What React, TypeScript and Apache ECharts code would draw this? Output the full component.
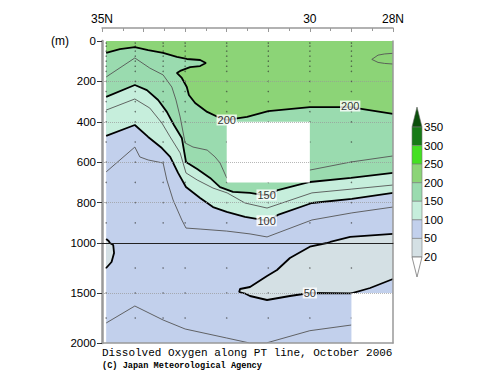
import React, { useEffect, useRef } from 'react';
import * as echarts from 'echarts';

// ---- data (latitude °N, depth m) ----
const stations = [34.9, 34.2, 33.53, 33.0, 32.0, 31.0, 30.0, 29.0];
const upperSampleDepths = [10, 25, 50, 75, 100, 125, 150, 200, 250, 300, 350, 400, 500, 600, 700, 800, 900];
const lowerSampleDepths = [1250, 1500, 1750];

const westEdge = 34.9;
const eastEdge = 28.0;

const c225 = [[28.0, 61], [28.2, 64], [28.36, 70], [28.51, 91], [28.36, 106], [28.2, 111], [28.0, 114]];
const c200 = [[34.9, 59], [34.57, 40], [34.21, 30], [33.89, 45], [33.53, 59], [33.2, 79], [32.96, 89], [32.64, 94], [32.5, 109], [32.64, 124], [32.88, 129], [33.12, 148], [33.2, 158], [33.08, 183], [32.96, 228], [32.91, 267], [32.76, 307], [32.47, 351], [32.21, 376], [32.0, 391], [31.51, 376], [31.0, 347], [30.0, 327], [29.03, 327], [28.0, 361]];
const c175 = [[34.9, 178], [34.21, 84], [33.85, 134], [33.53, 168], [33.32, 228], [33.22, 292], [33.12, 376], [33.0, 505], [32.81, 525], [32.47, 540], [32.28, 574], [32.16, 604], [32.0, 678], [30.0, 639], [29.01, 599], [28.0, 569]];
const c150 = [[34.9, 277], [34.21, 218], [33.92, 243], [33.65, 292], [33.44, 351], [33.27, 416], [33.08, 480], [32.98, 599], [32.71, 634], [32.4, 678], [32.16, 723], [31.85, 747], [31.44, 752], [31.0, 767], [30.77, 738], [30.0, 698], [29.01, 678], [28.0, 653]];
const c125 = [[34.9, 342], [34.21, 287], [33.85, 332], [33.56, 406], [33.36, 475], [33.12, 554], [32.98, 653], [32.71, 688], [32.33, 728], [31.99, 752], [31.56, 802], [31.03, 827], [29.95, 752], [28.99, 733], [28.0, 713]];
const c100 = [[34.9, 470], [34.21, 416], [33.89, 475], [33.56, 530], [33.36, 574], [33.17, 653], [32.98, 723], [32.64, 777], [32.33, 822], [32.0, 846], [31.56, 871], [31.0, 891], [30.77, 861], [29.95, 802], [28.99, 782], [28.0, 752]];
const c75 = [[34.9, 648], [34.21, 525], [34.09, 574], [33.89, 589], [33.53, 604], [33.44, 688], [33.29, 787], [33.08, 886], [32.98, 926], [32.64, 931], [32.0, 941], [31.44, 955], [31.03, 970], [29.95, 886], [28.99, 851], [28.0, 822]];
const c75deep = [[34.9, 1800], [34.21, 1630], [33.53, 1770], [33.0, 1860], [32.0, 1950], [31.45, 2000], [31.05, 2000], [30.0, 1877], [29.0, 1820]];
const c50WestUpper = [[34.9, 980], [34.84, 990], [34.81, 1000]];
const c50WestLower = [[34.81, 1000], [34.73, 1020], [34.71, 1100], [34.77, 1190], [34.9, 1250]];
const c50EastUpper = [[28.0, 955], [29.03, 970], [29.51, 995], [29.59, 1000]];
const c50EastLower = [[29.59, 1000], [30.0, 1037], [30.48, 1150], [30.79, 1270], [31.03, 1330], [31.44, 1440], [31.68, 1460], [31.7, 1490], [31.56, 1505], [31.44, 1530], [31.03, 1570], [30.48, 1530], [30.0, 1500], [29.0, 1503], [28.55, 1450], [28.0, 1360]];

const gapUpper = [[32, 400], [30, 400], [30, 700], [32, 700]];
const gapLower = [[29, 1500], [28, 1500], [28, 2000], [29, 2000]];

const labelsUpper = [[32.0, 391, '200'], [29.03, 322, '200'], [31.04, 762, '150'], [31.04, 890, '100']];
const labelsLower = [[30.0, 1500, '50']];

const cbLevels = ['350', '300', '250', '200', '150', '100', '50', '20'];
const cbColors = ['#177a17', '#44e022', '#8cd477', '#9adbaf', '#c6eedc', '#c2d0ec', '#d4e0e4'];
const colorAbove350 = '#0b4f0b';

const C200 = '#8cd477';
const C150 = '#9adbaf';
const C100 = '#c6eedc';
const C50 = '#c2d0ec';
const C20 = '#d4e0e4';

const FONT = 'Liberation Sans, Arial, sans-serif';
const MONO = 'Liberation Mono, Courier New, monospace';

function poly(points: number[][], color: string, xi: number, yi: number, z: number) {
  return {
    type: 'custom',
    xAxisIndex: xi,
    yAxisIndex: yi,
    z,
    silent: true,
    clip: true,
    data: points,
    encode: { x: 0, y: 1 },
    renderItem: (params: any, api: any) => {
      if (params.dataIndex !== 0) return null;
      return {
        type: 'polygon',
        shape: { points: points.map((p) => api.coord(p)) },
        style: { fill: color, stroke: null },
      };
    },
  };
}

function line(points: number[][], thick: boolean, xi: number, yi: number) {
  return {
    type: 'line',
    xAxisIndex: xi,
    yAxisIndex: yi,
    z: 3,
    silent: true,
    showSymbol: false,
    symbol: 'none',
    data: points,
    lineStyle: thick ? { color: '#000', width: 1.8 } : { color: '#555', width: 0.9 },
  };
}

function labels(items: any[], xi: number, yi: number) {
  return {
    type: 'scatter',
    xAxisIndex: xi,
    yAxisIndex: yi,
    z: 8,
    silent: true,
    symbolSize: 0,
    data: items,
    label: {
      show: true,
      position: 'inside',
      formatter: (p: any) => p.value[2],
      color: '#000',
      fontSize: 11,
      fontFamily: FONT,
      backgroundColor: '#fff',
      padding: [0, 1],
    },
  };
}

export default function App() {
  const ref = useRef<HTMLDivElement>(null);
  useEffect(() => {
    const chart = echarts.init(ref.current!, null, { renderer: 'svg' });
    const xBase = { type: 'value', min: 28, max: 35, inverse: true, interval: 1 };
    const grayLine = { color: '#999', width: 1.5 };
    const dotsUpper = stations.flatMap((s) => upperSampleDepths.map((d) => [s, d]));
    const dotsLower = stations.flatMap((s) => lowerSampleDepths.map((d) => [s, d]));
    const dotStyle = { color: '#333', opacity: 0.65 };
    const bgUpper = [[westEdge, 0], [eastEdge, 0], [eastEdge, 1000], [westEdge, 1000]];
    const bgLower = [[westEdge, 1000], [eastEdge, 1000], [eastEdge, 2000], [westEdge, 2000]];
    const h = (257 - 127) / 7;
    const graphic: any[] = [
      { type: 'text', x: 51, y: 41, style: { text: '(m)', fontSize: 12, fontFamily: FONT, fill: '#000', verticalAlign: 'middle' } },
      { type: 'polygon', shape: { points: [[412, 127], [422, 127], [417, 107]] }, style: { fill: colorAbove350, stroke: '#666', lineWidth: 0.6 } },
      ...cbColors.map((c, i) => ({ type: 'rect', shape: { x: 412, y: 127 + i * h, width: 10, height: h }, style: { fill: c, stroke: '#777', lineWidth: 0.6 } })),
      { type: 'polygon', shape: { points: [[412, 257], [422, 257], [417, 277]] }, style: { fill: '#fff', stroke: '#777', lineWidth: 0.8 } },
      ...cbLevels.map((t, i) => ({ type: 'text', x: 424, y: 127 + i * h, style: { text: t, fontSize: 11.5, fontFamily: FONT, fill: '#000', verticalAlign: 'middle' } })),
    ];
    chart.setOption({
      animation: false,
      title: {
        text: 'Dissolved Oxygen along PT line, October 2006',
        subtext: '(C) Japan Meteorological Agency',
        left: 102,
        top: 347,
        padding: 0,
        itemGap: 3,
        textStyle: { fontFamily: MONO, fontSize: 11, fontWeight: 'normal', color: '#000' },
        subtextStyle: { fontFamily: MONO, fontSize: 8.6, fontWeight: 'bold', color: '#000' },
      },
      grid: [
        { left: 102, top: 41, width: 291, height: 202 },
        { left: 102, top: 243, width: 291, height: 100 },
      ],
      xAxis: [
        {
          ...xBase, gridIndex: 0, position: 'top', offset: 13, z: 5,
          axisLine: { onZero: false, lineStyle: grayLine },
          axisTick: { inside: true, length: 4, lineStyle: { color: '#999' } },
          minorTick: { show: true, splitNumber: 2, length: 3, lineStyle: { color: '#999' } },
          axisLabel: {
            margin: 3, fontSize: 12, fontFamily: FONT, color: '#000',
            formatter: (v: number) => (v === 35 ? '35N' : v === 30 ? '30' : v === 28 ? '28N' : ''),
          },
          splitLine: { show: false },
        },
        {
          ...xBase, gridIndex: 0, position: 'bottom', z: 5,
          axisLine: { onZero: false, lineStyle: { color: '#222', width: 1 } },
          axisTick: { show: false }, axisLabel: { show: false }, splitLine: { show: false },
        },
        {
          ...xBase, gridIndex: 1, position: 'bottom', z: 5,
          axisLine: { onZero: false, lineStyle: grayLine },
          axisTick: { show: false }, axisLabel: { show: false }, splitLine: { show: false },
        },
      ],
      yAxis: [
        {
          type: 'value', gridIndex: 0, min: 0, max: 1000, interval: 200, inverse: true, position: 'left', z: 5,
          axisLine: { onZero: false, lineStyle: { color: '#999', width: 2.5 } },
          axisTick: { length: 5, lineStyle: { color: '#333' } },
          axisLabel: { margin: 6, fontSize: 11.5, fontFamily: FONT, color: '#000', formatter: (v: number) => (v === 1000 ? '' : String(v)) },
          splitLine: { show: true, showMinLine: false, showMaxLine: false, lineStyle: { type: 'dotted', color: '#999', width: 1, opacity: 0.7 } },
        },
        {
          type: 'value', gridIndex: 0, min: 0, max: 1000, inverse: true, position: 'right', z: 5,
          axisLine: { onZero: false, lineStyle: grayLine },
          axisTick: { show: false }, axisLabel: { show: false }, splitLine: { show: false },
        },
        {
          type: 'value', gridIndex: 1, min: 1000, max: 2000, interval: 500, inverse: true, position: 'left', z: 5,
          axisLine: { onZero: false, lineStyle: { color: '#999', width: 2.5 } },
          axisTick: { length: 5, lineStyle: { color: '#333' } },
          axisLabel: { margin: 6, fontSize: 11.5, fontFamily: FONT, color: '#000', formatter: (v: number) => String(v) },
          splitLine: { show: true, showMinLine: false, showMaxLine: false, lineStyle: { type: 'dotted', color: '#999', width: 1, opacity: 0.7 } },
        },
        {
          type: 'value', gridIndex: 1, min: 1000, max: 2000, inverse: true, position: 'right', z: 5,
          axisLine: { onZero: false, lineStyle: grayLine },
          axisTick: { show: false }, axisLabel: { show: false }, splitLine: { show: false },
        },
      ],
      graphic,
      series: [
        poly(bgUpper, C50, 0, 0, 1),
        poly(bgLower, C50, 2, 2, 1),
        poly([[westEdge, 0], ...c100, [eastEdge, 0]], C100, 0, 0, 1),
        poly([[westEdge, 0], ...c150, [eastEdge, 0]], C150, 0, 0, 1),
        poly([[westEdge, 0], ...c200, [eastEdge, 0]], C200, 0, 0, 1),
        poly([...c50WestUpper, [westEdge, 1000]], C20, 0, 0, 1),
        poly([...c50WestLower, [westEdge, 1000]], C20, 2, 2, 1),
        poly([...c50EastUpper, [eastEdge, 1000]], C20, 0, 0, 1),
        poly([...c50EastLower, [eastEdge, 1000]], C20, 2, 2, 1),
        { type: 'scatter', xAxisIndex: 0, yAxisIndex: 0, z: 2, silent: true, symbolSize: 1.5, data: dotsUpper, itemStyle: dotStyle },
        { type: 'scatter', xAxisIndex: 2, yAxisIndex: 2, z: 2, silent: true, symbolSize: 1.5, data: dotsLower, itemStyle: dotStyle },
        line(c225, false, 0, 0),
        line(c175, false, 0, 0),
        line(c125, false, 0, 0),
        line(c75, false, 0, 0),
        line(c75deep, false, 2, 2),
        line(c200, true, 0, 0),
        line(c150, true, 0, 0),
        line(c100, true, 0, 0),
        line(c50WestUpper, true, 0, 0),
        line(c50WestLower, true, 2, 2),
        line(c50EastUpper, true, 0, 0),
        line(c50EastLower, true, 2, 2),
        poly(gapUpper, '#ffffff', 0, 0, 4),
        poly(gapLower, '#ffffff', 2, 2, 4),
        labels(labelsUpper, 0, 0),
        labels(labelsLower, 2, 2),
      ],
    });
    return () => chart.dispose();
  }, []);
  return <div ref={ref} style={{ position: 'absolute', left: 0, top: 0, width: 500, height: 387 }} />;
}
